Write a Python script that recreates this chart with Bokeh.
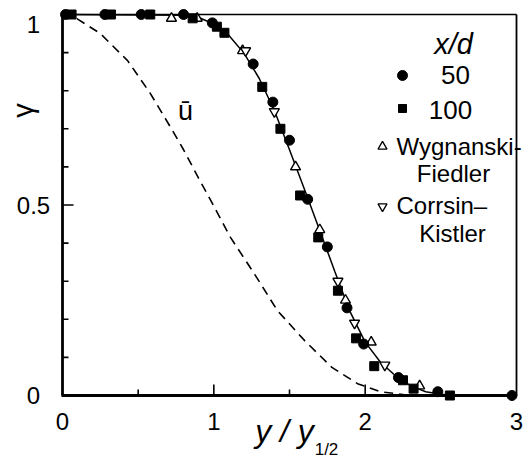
import numpy as np
from bokeh.plotting import figure
from bokeh.models import Range1d, Label
from bokeh.core.properties import value
from bokeh.embed import file_html
from bokeh.resources import INLINE

# ---- intermittency factor gamma vs y/y_1/2 ----
# present measurements, x/d = 50
x_50 = [0.02, 0.28, 0.52, 0.80, 0.99, 1.26, 1.39, 1.50, 1.62, 1.75, 1.88, 1.99, 2.22, 2.48, 2.97]
g_50 = [1.00, 1.00, 1.00, 1.00, 0.978, 0.87, 0.77, 0.67, 0.515, 0.39, 0.23, 0.135, 0.047, 0.01, 0.0]
# present measurements, x/d = 100
x_100 = [0.06, 0.32, 0.58, 0.86, 1.02, 1.07, 1.32, 1.44, 1.57, 1.69, 1.82, 1.94, 2.06, 2.25, 2.32, 2.56]
g_100 = [1.00, 1.00, 1.00, 0.99, 0.968, 0.952, 0.81, 0.70, 0.525, 0.415, 0.275, 0.15, 0.077, 0.04, 0.018, 0.0]
# Wygnanski & Fiedler
x_wf = [0.72, 0.89, 1.19, 1.54, 1.70, 1.87, 2.04, 2.36]
g_wf = [0.99, 0.99, 0.905, 0.60, 0.435, 0.25, 0.14, 0.025]
# Corrsin & Kistler
x_ck = [1.21, 1.40, 1.82, 1.93, 2.13]
g_ck = [0.905, 0.745, 0.30, 0.19, 0.08]

# fitted intermittency curve
fit_x = [0.0, 0.8, 0.9, 1.0, 1.1, 1.2, 1.3, 1.4, 1.5, 1.6, 1.7, 1.8, 1.9, 2.0, 2.1, 2.2, 2.3, 2.4, 2.5, 2.6, 3.0]
fit_g = [1.0, 0.998, 0.992, 0.975, 0.945, 0.898, 0.832, 0.748, 0.645, 0.54, 0.433, 0.325, 0.22, 0.14, 0.088, 0.052, 0.026, 0.01, 0.003, 0.0, 0.0]

# mean axial velocity profile, U / U_0
u_x = [0.0, 0.1, 0.25, 0.43, 0.58, 0.72, 0.8, 0.9, 1.0, 1.11, 1.27, 1.42, 1.6, 1.78, 1.95, 2.1, 2.3]
u_g = [1.0, 0.988, 0.95, 0.879, 0.793, 0.70, 0.645, 0.57, 0.497, 0.415, 0.318, 0.223, 0.144, 0.074, 0.031, 0.01, 0.0]

# axes
X_MIN, X_MAX = 0.0, 3.0
Y_MIN, Y_MAX = 0.0, 1.0
x_major = [0, 1, 2, 3]
x_minor = [0.5, 1.5, 2.5]
x_labels = ["0", "1", "2", "3"]
y_major = [0, 0.5, 1]
y_minor = [0.1, 0.2, 0.3, 0.4, 0.6, 0.7, 0.8, 0.9]
y_labels = ["0", "0.5", "1"]

# ---- page geometry (pixels) ----
W, H = 525, 463
PX_L, PX_R = 62, 516      # x = X_MIN, X_MAX
PX_B, PX_T = 395, 14      # y = Y_MIN, Y_MAX
FONT = "Liberation Sans"


def to_x(px):
    return X_MIN + (px - PX_L) * (X_MAX - X_MIN) / (PX_R - PX_L)


def to_y(py):
    return Y_MIN + (PX_B - py) * (Y_MAX - Y_MIN) / (PX_B - PX_T)


def dxp(n):
    return n * (X_MAX - X_MIN) / (PX_R - PX_L)


def dyp(n):
    return n * (Y_MAX - Y_MIN) / (PX_B - PX_T)


# the plotting area spans the whole canvas; the axes box is drawn by hand
p = figure(width=W, height=H, output_backend="svg", toolbar_location=None,
           x_axis_location=None, y_axis_location=None,
           x_range=Range1d(to_x(0), to_x(W)),
           y_range=Range1d(to_y(H), to_y(0)))
p.min_border = 0
p.outline_line_color = None
p.background_fill_color = "white"
p.border_fill_color = "white"
p.grid.visible = False

# frame: heavy left/bottom axes, light top/right border
p.line([X_MIN, X_MAX], [Y_MAX, Y_MAX], line_color="black", line_width=1.6)
p.line([X_MAX, X_MAX], [Y_MIN, Y_MAX], line_color="black", line_width=1.8)
p.line([X_MIN, X_MIN], [Y_MIN, Y_MAX + dyp(1)], line_color="black", line_width=2.8)
p.line([X_MIN - dxp(1), X_MAX], [Y_MIN, Y_MIN], line_color="black", line_width=2.8)

# inward ticks
xt = x_major[1:-1]
p.segment(x0=xt, y0=[Y_MIN] * len(xt), x1=xt, y1=[Y_MIN + dyp(11)] * len(xt),
          line_color="black", line_width=1.6)
p.segment(x0=x_minor, y0=[Y_MIN] * len(x_minor), x1=x_minor,
          y1=[Y_MIN + dyp(6)] * len(x_minor), line_color="black", line_width=1.6)
yt = y_major[1:-1]
p.segment(x0=[X_MIN] * len(yt), y0=yt, x1=[X_MIN + dxp(11)] * len(yt), y1=yt,
          line_color="black", line_width=1.6)
p.segment(x0=[X_MIN] * len(y_minor), y0=y_minor, x1=[X_MIN + dxp(6)] * len(y_minor),
          y1=y_minor, line_color="black", line_width=1.6)

# curves
p.line(u_x, u_g, line_color="black", line_width=1.6, line_dash="9 6")
p.line(fit_x, fit_g, line_color="black", line_width=1.5)

# data points
p.scatter(x_wf, g_wf, marker="triangle", size=10, fill_color="white",
          line_color="black", line_width=1.4)
p.scatter(x_ck, g_ck, marker="inverted_triangle", size=10, fill_color="white",
          line_color="black", line_width=1.4)
p.scatter(x_100, g_100, marker="square", size=9, fill_color="black", line_color="black")
p.scatter(x_50, g_50, marker="circle", size=10, fill_color="black", line_color="black")


def label(px, py, text, size="24px", align="center", style="normal"):
    p.add_layout(Label(x=to_x(px), y=to_y(py), text=text, text_align=align,
                       text_baseline="middle", text_font=FONT,
                       text_font_size=size, text_font_style=style,
                       text_color="black"))


# tick labels
for v, t in zip(x_major, x_labels):
    p.add_layout(Label(x=v, y=to_y(421), text=t, text_align="center",
                       text_baseline="middle", text_font=FONT,
                       text_font_size="24px", text_color="black"))
for v, t in zip(y_major, y_labels):
    py = PX_B - (v - Y_MIN) * (PX_B - PX_T) / (Y_MAX - Y_MIN)
    p.add_layout(Label(x=to_x(33), y=to_y(max(py, 24)), text=t, text_align="center",
                       text_baseline="middle", text_font=FONT,
                       text_font_size="24px", text_color="black"))

# axis titles
p.text(x=[to_x(22)], y=[to_y(110)], text=["γ"], angle=np.pi / 2,
       text_align="center", text_baseline="middle", text_font=value(FONT),
       text_font_size="29px", text_color="black")
label(284, 430, "y / y", size="32px", style="italic")
label(326, 449, "1/2", size="17px")

# curve annotation
label(185, 110, "ū", size="27px")

# legend
label(453, 43, "x/d", size="29px", style="italic")
p.scatter([to_x(402)], [to_y(75)], marker="circle", size=10, fill_color="black",
          line_color="black")
label(455, 74, "50", size="26px")
p.scatter([to_x(402)], [to_y(108)], marker="square", size=8, fill_color="black",
          line_color="black")
label(450, 109, "100", size="26px")
p.scatter([to_x(382)], [to_y(146)], marker="triangle", size=9, fill_color="white",
          line_color="black", line_width=1.3)
label(396, 146, "Wygnanski-", size="24px", align="left")
label(453, 173, "Fiedler", size="24px")
p.scatter([to_x(382)], [to_y(206)], marker="inverted_triangle", size=9,
          fill_color="white", line_color="black", line_width=1.3)
label(396, 205, "Corrsin–", size="24px", align="left")
label(452, 233, "Kistler", size="24px")

open("out.html", "w").write(file_html(p, INLINE))
